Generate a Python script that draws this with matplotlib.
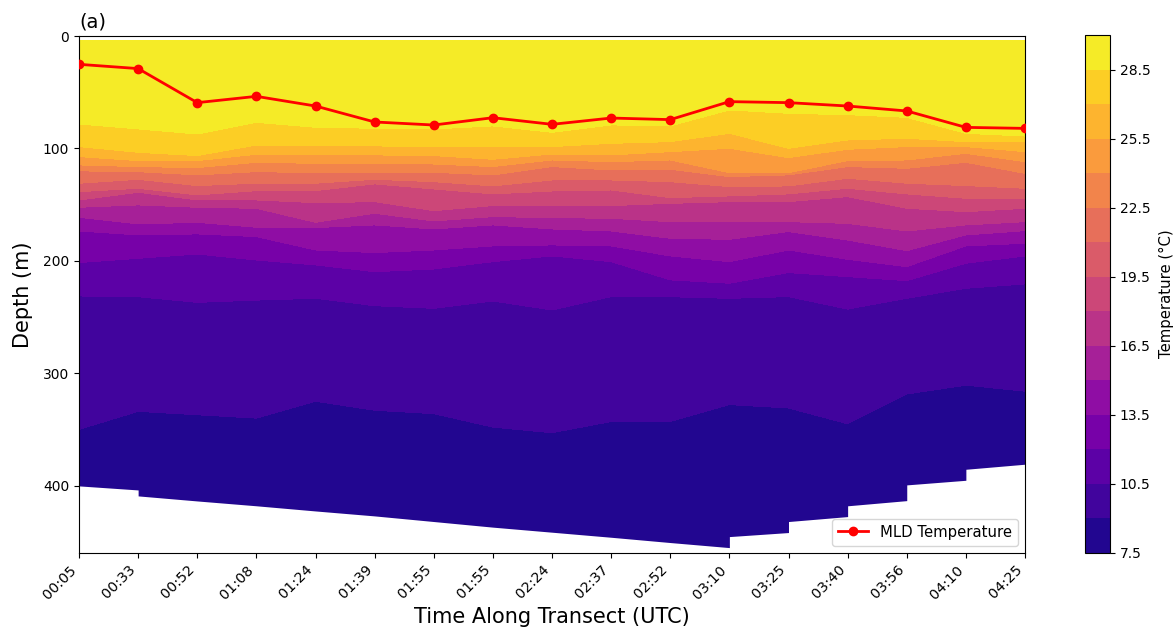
import numpy as np
import matplotlib
matplotlib.use("Agg")
import matplotlib.pyplot as plt

time_labels = ["00:05", "00:33", "00:52", "01:08", "01:24", "01:39", "01:55", "01:55", "02:24",
               "02:37", "02:52", "03:10", "03:25", "03:40", "03:56", "04:10", "04:25"]
mld_depth = [25.2, 29, 59.3, 53.7, 62.3, 76.5, 79.2, 72.7, 78.6, 73, 74.4, 58.4, 59.3, 62.3, 66.7, 81.3, 82.2]

temp_levels = [7.5, 9, 10.5, 12, 13.5, 15, 16.5, 18, 19.5, 21, 22.5, 24, 25.5, 27, 28.5, 30]
colorbar_ticks = [7.5, 10.5, 13.5, 16.5, 19.5, 22.5, 25.5, 28.5]

# depth (m) of each isotherm at each station
iso_285 = [78.3, 82.7, 87.2, 76.8, 81.2, 82.1, 82.7, 80, 85.7, 79.1, 80, 65.8, 68.8, 70, 72.4, 86.6, 89]
iso_270 = [98.4, 103.5, 106.4, 97, 97.8, 97.8, 98.4, 98.4, 98.4, 95.5, 94, 86.6, 99.9, 92.5, 91, 94, 94]
iso_255 = [107.3, 110.9, 110.9, 105.2, 105.5, 105.8, 106.4, 109.7, 105, 105.8, 102.9, 99.9, 108.2, 100.8, 98.4, 98.4, 102.9]
iso_240 = [114.7, 116.2, 117.1, 112.4, 113.3, 113.3, 113.9, 116.2, 110.3, 111.8, 110.3, 121.6, 121.6, 110.9, 110.3, 104.4, 111.8]
iso_225 = [120, 120.7, 123.6, 120.7, 121.6, 121.3, 121.3, 123.6, 116.2, 119.2, 118.6, 125.1, 123.6, 116.2, 117.7, 112.4, 122.2]
iso_210 = [131, 127.5, 133.1, 131, 131, 127.5, 129.6, 133.4, 128.1, 128.1, 129.6, 134, 133.4, 126.6, 131, 133.1, 135.5]
iso_195 = [138.5, 135.5, 141.4, 137.6, 137.6, 131.6, 136.1, 140.5, 137.9, 137, 143.8, 142.3, 140.5, 135.5, 140.5, 144.4, 144.4]
iso_180 = [146, 139, 145.9, 145.9, 148.3, 147.4, 155.4, 150.9, 150.9, 150.9, 148.9, 147.4, 147.4, 142.9, 153.3, 156.3, 153.3]
iso_165 = [152.4, 150.3, 152.4, 153.3, 165.8, 157.7, 164.6, 160.7, 161.6, 162.2, 165.2, 165.2, 165.2, 166.7, 173.5, 168.1, 165.2]
iso_150 = [161.3, 167.2, 165.8, 170.2, 170.5, 168.1, 171.7, 168.1, 171.7, 173.5, 180, 180.9, 174, 181.5, 191, 177, 173.2]
iso_135 = [173.5, 177, 176.1, 178.5, 190.4, 192.7, 190.4, 186.8, 185.9, 186.8, 195.7, 200.8, 190.4, 198.7, 205.2, 186.8, 184.4]
iso_120 = [201.6, 197.8, 194, 199.3, 203.7, 209.7, 207.3, 200.8, 195.7, 200.8, 217, 220, 210.5, 214.1, 217.7, 202.2, 195.7]
iso_105 = [231.3, 232, 237, 235, 233.4, 240, 242.3, 235.8, 243.8, 231.9, 232, 233.4, 231.9, 243, 233.4, 224.5, 220.6]
iso_090 = [350, 334, 337, 340, 325, 333, 336, 348, 353, 343, 343, 328, 331, 345, 318.5, 310.7, 316]

surface_depth = 4
deep_limit = 460

# sea floor of the transect: depth arriving at stations 1..16, leaving stations 0..15
bottom_in = [403.9, 413.7, 418, 422.6, 427, 432, 437, 441.5, 446, 450.7, 455.2, 441.8, 427.6, 413.4, 395.3, 381]
bottom_out = [400.3, 409.2, 413.7, 418, 422.6, 427, 432, 437, 441.5, 446, 450.7, 445.4, 432, 418, 399.4, 385.5]

n = len(time_labels)
stations = np.arange(n)
isotherms = [iso_090, iso_105, iso_120, iso_135, iso_150, iso_165, iso_180,
             iso_195, iso_210, iso_225, iso_240, iso_255, iso_270, iso_285]

depth_grid = np.vstack([np.full(n, deep_limit)] + [np.array(a) for a in isotherms] + [np.full(n, surface_depth)])
temp_grid = np.tile(np.array(temp_levels)[:, None], (1, n))
x_grid = np.tile(stations, (len(temp_levels), 1))

fig = plt.figure(figsize=(11.76, 6.32), dpi=100)
W, H = 1176, 632
ax = fig.add_axes([79 / W, 1 - 553 / H, (1025 - 79) / W, (553 - 36) / H])
cax = fig.add_axes([1085 / W, 1 - 553 / H, 25 / W, (553 - 35) / H])

cf = ax.contourf(x_grid, depth_grid, temp_grid, levels=temp_levels, cmap="plasma")

xs = np.column_stack([stations[:-1], stations[1:]]).ravel()
ys = np.column_stack([bottom_out, bottom_in]).ravel()
ax.fill_between(xs, ys, deep_limit + 10, color="white", linewidth=0, zorder=1.5)

ax.plot(stations, mld_depth, color="red", marker="o", markersize=6, linewidth=2,
        label="MLD Temperature", zorder=3)

ax.set_xlim(0, n - 1)
ax.set_ylim(deep_limit, 0)
ax.set_yticks([0, 100, 200, 300, 400])
ax.set_xticks(stations)
ax.set_xticklabels(time_labels, rotation=45, ha="right", fontsize=10.3)
ax.tick_params(axis="y", labelsize=10)
ax.set_xlabel("Time Along Transect (UTC)", fontsize=15, labelpad=4)
ax.set_ylabel("Depth (m)", fontsize=15, labelpad=7)
ax.set_title("(a)", loc="left", fontsize=14, pad=6)
ax.legend(loc="lower right", fontsize=10.7)

cb = fig.colorbar(cf, cax=cax, ticks=colorbar_ticks, format="%.1f")
cb.set_label("Temperature (°C)", fontsize=10.7, labelpad=6)
cb.ax.tick_params(labelsize=10)

fig.savefig("out.png", dpi=100)
